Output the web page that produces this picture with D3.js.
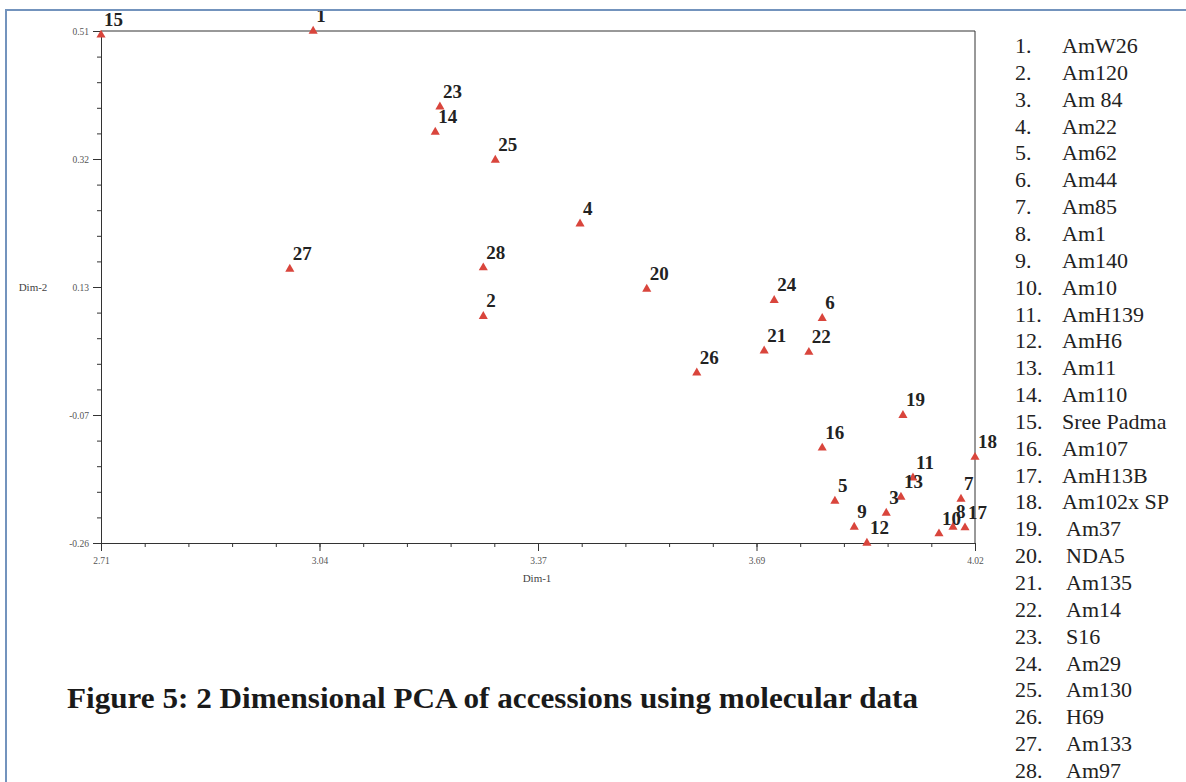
<!DOCTYPE html>
<html>
<head>
<meta charset="utf-8">
<script src="https://cdn.jsdelivr.net/npm/d3@7"></script>
<style>
body { margin: 0; background: #fff; }
svg { display: block; }
</style>
</head>
<body>
<svg id="chart"></svg>
<script>
// accession numbers 1..28 and their coordinates (Dim-1, Dim-2)
var ids = [1,2,3,4,5,6,7,8,9,10,11,12,13,14,15,16,17,18,19,20,21,22,23,24,25,26,27,28];
var dim1 = [3.028,3.283,3.887,3.428,3.810,3.791,3.999,3.987,3.839,3.966,3.927,3.858,3.909,3.211,
	2.710,3.791,4.005,4.020,3.912,3.528,3.704,3.771,3.218,3.719,3.301,3.603,2.993,3.283];
var dim2 = [0.510,0.081,-0.215,0.220,-0.197,0.078,-0.194,-0.236,-0.236,-0.246,-0.162,-0.260,-0.191,0.358,
	0.504,-0.117,-0.237,-0.131,-0.068,0.122,0.029,0.027,0.396,0.105,0.316,-0.004,0.152,0.154];
var names = ["AmW26","Am120","Am 84","Am22","Am62","Am44","Am85","Am1","Am140","Am10","AmH139","AmH6",
	"Am11","Am110","Sree Padma","Am107","AmH13B","Am102x SP","Am37","NDA5","Am135","Am14","S16",
	"Am29","Am130","H69","Am133","Am97"];

var xTickLabels = ["2.71","3.04","3.37","3.69","4.02"];
var yTickLabels = ["-0.26","-0.07","0.13","0.32","0.51"];

var w = 1186;
var h = 782;
var pLeft = 101, pRight = 975, pTop = 31, pBottom = 543;

var svg = d3.select('#chart').attr('width', w).attr('height', h);

var x = d3.scaleLinear().domain([2.71, 4.02]).range([pLeft, pRight]);
var y = d3.scaleLinear().domain([-0.26, 0.51]).range([pBottom, pTop]);

function split(scale, n){
	var d = scale.domain();
	return d3.range(n+1).map(function(i){ return d[0] + i*(d[1]-d[0])/n; });
}

// minor ticks
svg.append('g')
	.attr('transform', 'translate(0,' + pBottom + ')')
	.call(d3.axisBottom(x).tickValues(split(x,20)).tickFormat('').tickSize(4).tickSizeOuter(0));
svg.append('g')
	.attr('transform', 'translate(' + pLeft + ',0)')
	.call(d3.axisLeft(y).tickValues(split(y,20)).tickFormat('').tickSize(4).tickSizeOuter(0));

// major ticks
var xAxis = svg.append('g')
	.attr('transform', 'translate(0,' + pBottom + ')')
	.call(d3.axisBottom(x).tickValues(split(x,4)).tickFormat(function(d,i){return xTickLabels[i];}).tickSize(8).tickSizeOuter(0));
var yAxis = svg.append('g')
	.attr('transform', 'translate(' + pLeft + ',0)')
	.call(d3.axisLeft(y).tickValues(split(y,4)).tickFormat(function(d,i){return yTickLabels[i];}).tickSize(8).tickSizeOuter(0));

svg.selectAll('.domain, .tick line').attr('stroke', '#333');
svg.selectAll('.tick text')
	.attr('font-family', 'Liberation Serif, serif')
	.attr('font-size', '9.5px')
	.attr('fill', '#555');
xAxis.selectAll('.tick text').attr('dy', '1.1em');
yAxis.selectAll('.tick text').attr('dx', '-1px');

// top and right box lines
svg.append('line').attr('x1', pLeft).attr('x2', pRight).attr('y1', pTop).attr('y2', pTop).attr('stroke', '#333');
svg.append('line').attr('x1', pRight).attr('x2', pRight).attr('y1', pTop).attr('y2', pBottom).attr('stroke', '#333');

svg.append('text').text('Dim-1')
	.attr('x', 537).attr('y', 582)
	.attr('text-anchor', 'middle')
	.attr('font-family', 'Liberation Serif, serif').attr('font-size', '11px').attr('fill', '#444');
svg.append('text').text('Dim-2')
	.attr('x', 33).attr('y', 291)
	.attr('text-anchor', 'middle')
	.attr('font-family', 'Liberation Serif, serif').attr('font-size', '11px').attr('fill', '#444');

var points = ids.map(function(id, i){ return {id: id, x: dim1[i], y: dim2[i], name: names[i]}; });

svg.append('g').selectAll('path')
	.data(points)
	.join('path')
	.attr('d', d3.symbol().type(d3.symbolTriangle).size(36))
	.attr('transform', function(d){ return 'translate(' + x(d.x) + ',' + y(d.y) + ')'; })
	.attr('fill', '#d9453c');

svg.append('g').selectAll('text')
	.data(points)
	.join('text')
	.text(function(d){ return d.id; })
	.attr('x', function(d){ return x(d.x) + 3; })
	.attr('y', function(d){ return y(d.y) - 9; })
	.attr('font-family', 'Liberation Serif, serif')
	.attr('font-weight', 'bold')
	.attr('font-size', '19px')
	.attr('fill', '#222');

// legend list
var legend = svg.append('g').attr('font-family', 'Liberation Serif, serif').attr('font-size', '22px').attr('fill', '#222');
legend.selectAll('.num')
	.data(points)
	.join('text')
	.attr('class', 'num')
	.text(function(d){ return d.id + '.'; })
	.attr('x', 1015)
	.attr('y', function(d, i){ return 53 + i*26.85; });
legend.selectAll('.nm')
	.data(points)
	.join('text')
	.attr('class', 'nm')
	.text(function(d){ return d.name; })
	.attr('x', function(d){ return d.id >= 19 ? 1066 : 1062; })
	.attr('y', function(d, i){ return 53 + i*26.85; });

svg.append('text')
	.text('Figure 5: 2 Dimensional PCA of accessions using molecular data')
	.attr('x', 67).attr('y', 708)
	.attr('textLength', 851).attr('lengthAdjust', 'spacingAndGlyphs')
	.attr('font-family', 'Liberation Serif, serif')
	.attr('font-weight', 'bold')
	.attr('font-size', '30px')
	.attr('fill', '#1a1a1a');

// outer frame (left and top)
svg.append('line').attr('x1', 6).attr('x2', 6).attr('y1', 10).attr('y2', h).attr('stroke', '#7393bd').attr('stroke-width', 2);
svg.append('line').attr('x1', 5).attr('x2', w).attr('y1', 10).attr('y2', 10).attr('stroke', '#7393bd').attr('stroke-width', 2);
</script>
</body>
</html>
